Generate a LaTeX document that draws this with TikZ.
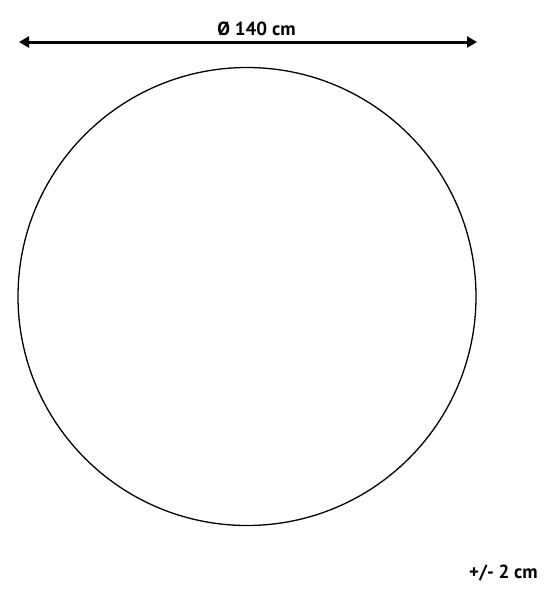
\documentclass[tikz,border=0pt]{standalone}
\usepackage{fontspec}
\setmainfont{PT Sans}
\usetikzlibrary{arrows.meta}
\begin{document}
\begin{tikzpicture}[x=1pt,y=-1pt]
			\tikzstyle{label}=[font=\bfseries\fontsize{19}{21}\selectfont, inner sep=0pt]
			\tikzstyle{dim}=[line width=3pt, {Triangle[length=10pt,width=11pt]}-{Triangle[length=10pt,width=11pt]}]
			\useasboundingbox (0,0) rectangle (557,600);
			\coordinate (left) at (19,42);
			\coordinate (right) at (477,42);
			\node[label] (diam) at (256.5,29){Ø 140 cm};
			\node[label] (tol) at (503.5,573.5){+/- 2 cm};
			\draw[dim] (left) -- (right);
			\node[draw, circle, line width=1.3pt, minimum size=458pt, inner sep=0pt] (rug) at (247,296.5){};
		\end{tikzpicture}
\end{document}
